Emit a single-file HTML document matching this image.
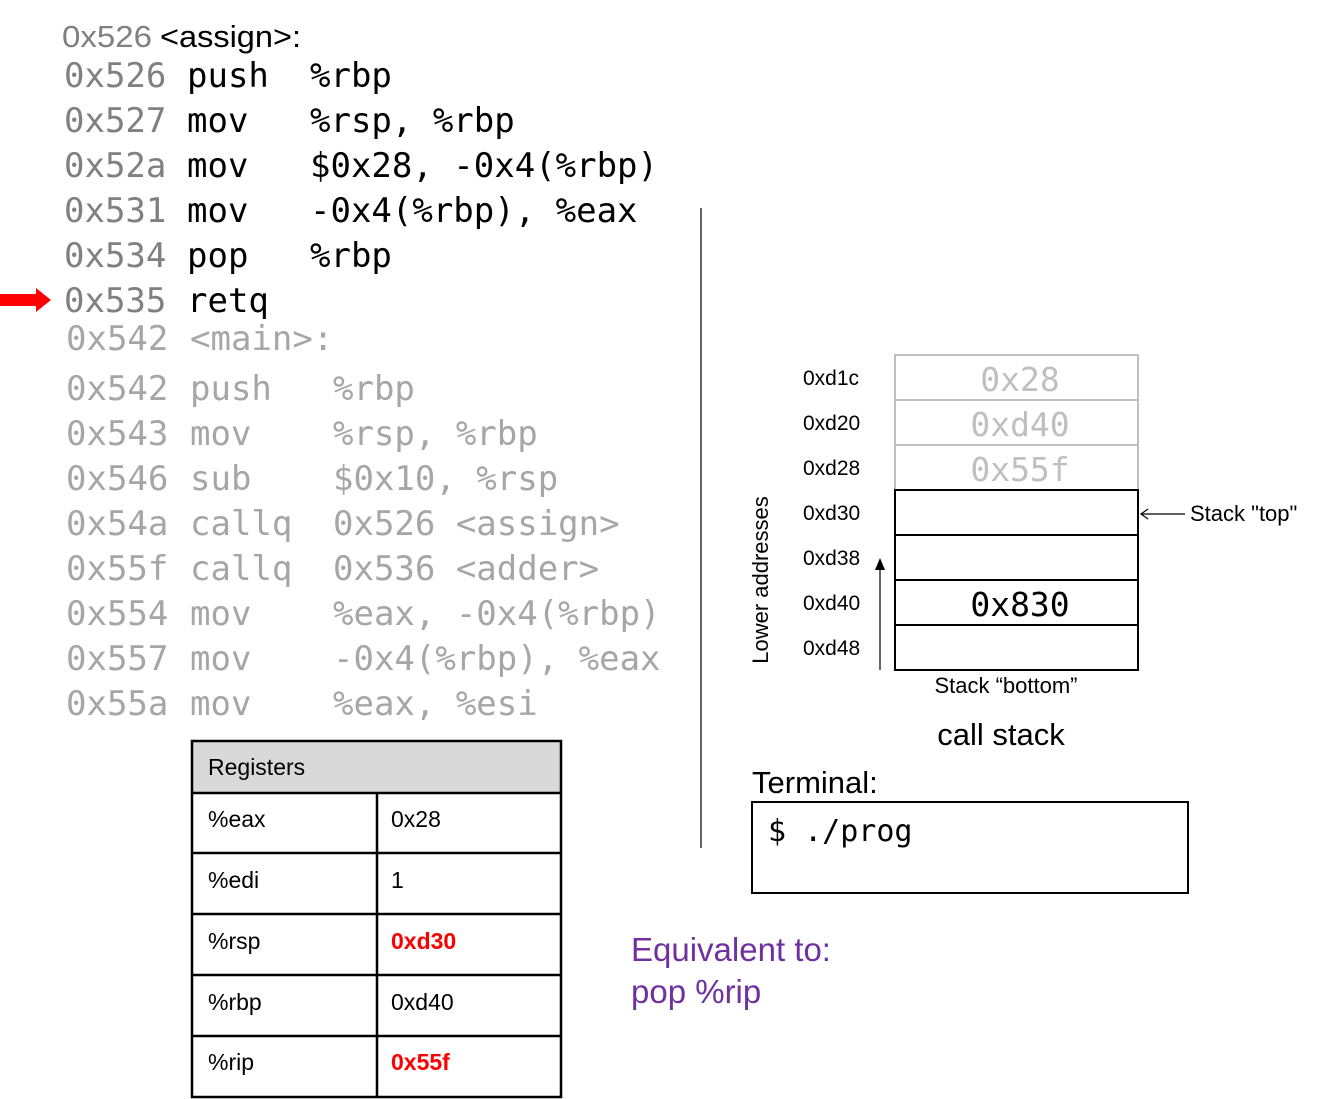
<!DOCTYPE html>
<html><head><meta charset="utf-8"><style>
html,body{margin:0;padding:0;background:#fff;}
svg{display:block;}
.m{font-family:"DejaVu Sans Mono","Liberation Mono",monospace;white-space:pre;}
.s{font-family:"Liberation Sans",Arial,sans-serif;}
</style></head><body>
<svg width="1338" height="1099" viewBox="0 0 1338 1099" xmlns="http://www.w3.org/2000/svg">
<!-- header -->
<text x="62" y="47" class="s" font-size="31" fill="#808080" textLength="90" lengthAdjust="spacingAndGlyphs">0x526</text>
<text x="160" y="47" class="s" font-size="31" fill="#000" textLength="141" lengthAdjust="spacingAndGlyphs">&lt;assign&gt;:</text>
<!-- assign code -->
<g class="m" font-size="34">
<text y="87"><tspan x="64" fill="#808080">0x526</tspan><tspan x="187">push</tspan><tspan x="310">%rbp</tspan></text>
<text y="132"><tspan x="64" fill="#808080">0x527</tspan><tspan x="187">mov</tspan><tspan x="310">%rsp, %rbp</tspan></text>
<text y="177"><tspan x="64" fill="#808080">0x52a</tspan><tspan x="187">mov</tspan><tspan x="310">$0x28, -0x4(%rbp)</tspan></text>
<text y="222"><tspan x="64" fill="#808080">0x531</tspan><tspan x="187">mov</tspan><tspan x="310">-0x4(%rbp), %eax</tspan></text>
<text y="267"><tspan x="64" fill="#808080">0x534</tspan><tspan x="187">pop</tspan><tspan x="310">%rbp</tspan></text>
<text y="312"><tspan x="64" fill="#808080">0x535</tspan><tspan x="187">retq</tspan></text>
</g>
<g class="m" font-size="34" fill="#a6a6a6">
<text y="350"><tspan x="66">0x542</tspan><tspan x="190">&lt;main&gt;:</tspan></text>
<text y="400"><tspan x="66">0x542</tspan><tspan x="190">push</tspan><tspan x="333">%rbp</tspan></text>
<text y="445"><tspan x="66">0x543</tspan><tspan x="190">mov</tspan><tspan x="333">%rsp, %rbp</tspan></text>
<text y="490"><tspan x="66">0x546</tspan><tspan x="190">sub</tspan><tspan x="333">$0x10, %rsp</tspan></text>
<text y="535"><tspan x="66">0x54a</tspan><tspan x="190">callq</tspan><tspan x="333">0x526 &lt;assign&gt;</tspan></text>
<text y="580"><tspan x="66">0x55f</tspan><tspan x="190">callq</tspan><tspan x="333">0x536 &lt;adder&gt;</tspan></text>
<text y="625"><tspan x="66">0x554</tspan><tspan x="190">mov</tspan><tspan x="333">%eax, -0x4(%rbp)</tspan></text>
<text y="670"><tspan x="66">0x557</tspan><tspan x="190">mov</tspan><tspan x="333">-0x4(%rbp), %eax</tspan></text>
<text y="715"><tspan x="66">0x55a</tspan><tspan x="190">mov</tspan><tspan x="333">%eax, %esi</tspan></text>
</g>
<!-- red arrow -->
<polygon points="0,294 36,294 36,288 51,300 36,312 36,306 0,306" fill="#ff0000"/>
<!-- divider -->
<line x1="701" y1="208" x2="701" y2="848" stroke="#000" stroke-width="1.2"/>
<!-- registers -->
<rect x="192" y="741" width="369" height="52" fill="#d9d9d9"/>
<g stroke="#000" stroke-width="2.5" fill="none">
<rect x="192" y="741" width="369" height="356"/>
<line x1="192" y1="793" x2="561" y2="793"/>
<line x1="192" y1="853" x2="561" y2="853"/>
<line x1="192" y1="914" x2="561" y2="914"/>
<line x1="192" y1="975" x2="561" y2="975"/>
<line x1="192" y1="1036" x2="561" y2="1036"/>
<line x1="377" y1="793" x2="377" y2="1097"/>
</g>
<g class="s" font-size="23">
<text x="208" y="775">Registers</text>
<text x="208" y="827">%eax</text><text x="391" y="827">0x28</text>
<text x="208" y="888">%edi</text><text x="391" y="888">1</text>
<text x="208" y="949">%rsp</text><text x="391" y="949" fill="#ff0000" font-weight="bold">0xd30</text>
<text x="208" y="1010">%rbp</text><text x="391" y="1010">0xd40</text>
<text x="208" y="1070">%rip</text><text x="391" y="1070" fill="#ff0000" font-weight="bold">0x55f</text>
</g>
<!-- stack -->
<g stroke="#bfbfbf" stroke-width="2" fill="none">
<rect x="895" y="355" width="243" height="135"/>
<line x1="895" y1="400" x2="1138" y2="400"/>
<line x1="895" y1="445" x2="1138" y2="445"/>
</g>
<g stroke="#000" stroke-width="2" fill="none">
<rect x="895" y="490" width="243" height="180"/>
<line x1="895" y1="535" x2="1138" y2="535"/>
<line x1="895" y1="580" x2="1138" y2="580"/>
<line x1="895" y1="625" x2="1138" y2="625"/>
</g>
<g class="s" font-size="21">
<text x="803" y="385">0xd1c</text>
<text x="803" y="430">0xd20</text>
<text x="803" y="475">0xd28</text>
<text x="803" y="520">0xd30</text>
<text x="803" y="565">0xd38</text>
<text x="803" y="610">0xd40</text>
<text x="803" y="655">0xd48</text>
</g>
<g class="m" font-size="33" text-anchor="middle">
<text x="1020" y="391" fill="#bfbfbf">0x28</text>
<text x="1020" y="436" fill="#bfbfbf">0xd40</text>
<text x="1020" y="481" fill="#bfbfbf">0x55f</text>
<text x="1020" y="616" fill="#000">0x830</text>
</g>
<line x1="880" y1="670" x2="880" y2="568" stroke="#000" stroke-width="1.2"/>
<polygon points="880,558 875,570 885,570" fill="#000"/>
<text class="s" font-size="22" transform="translate(768,580) rotate(-90)" text-anchor="middle">Lower addresses</text>
<line x1="1142" y1="514" x2="1185" y2="514" stroke="#000" stroke-width="1.2"/>
<polyline points="1148,509 1141,514 1148,519" stroke="#000" stroke-width="1.2" fill="none"/>
<text x="1190" y="521" class="s" font-size="22">Stack "top"</text>
<text x="1006" y="693" class="s" font-size="22" text-anchor="middle">Stack “bottom”</text>
<text x="1001" y="745" class="s" font-size="31" text-anchor="middle">call stack</text>
<text x="752" y="793" class="s" font-size="31">Terminal:</text>
<rect x="752" y="802" width="436" height="91" fill="none" stroke="#000" stroke-width="2"/>
<text x="768" y="841" class="m" font-size="30">$ ./prog</text>
<g class="s" font-size="33" fill="#7030a0">
<text x="631" y="961">Equivalent to:</text>
<text x="631" y="1003">pop %rip</text>
</g>
</svg>
</body></html>
